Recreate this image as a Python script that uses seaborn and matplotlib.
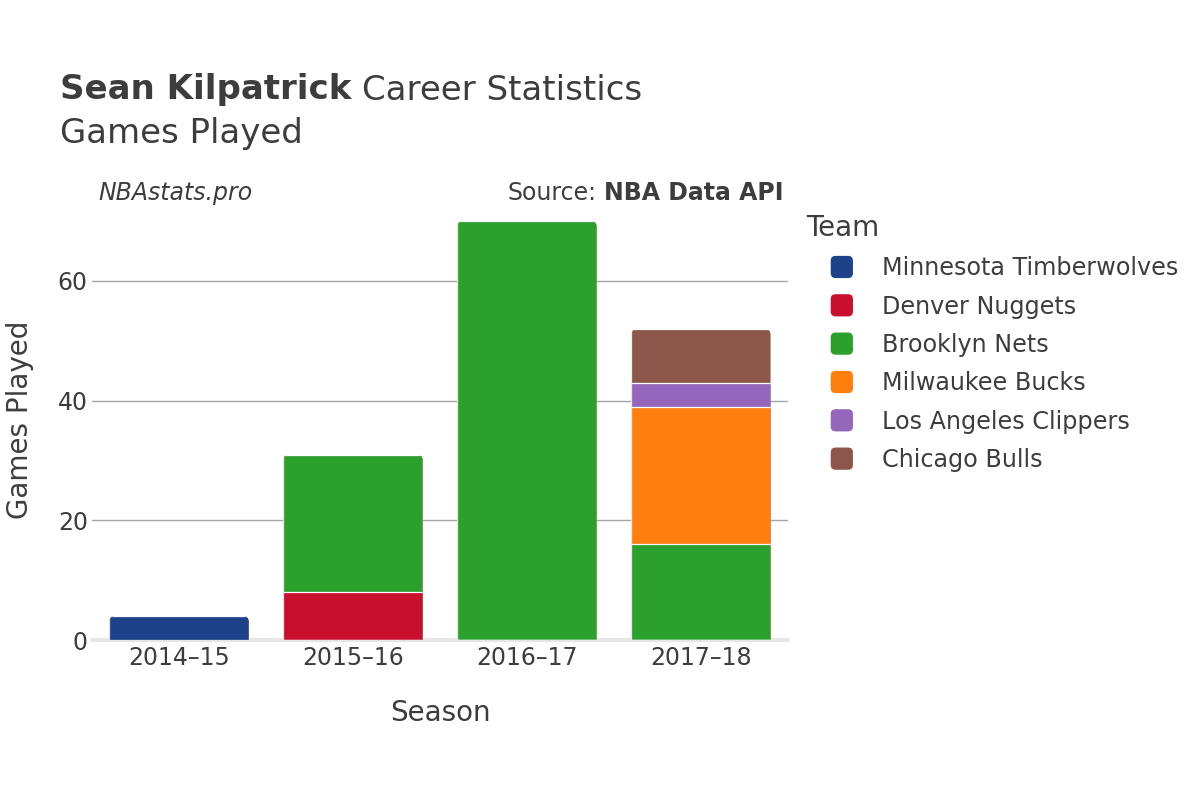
import pandas as pd
import numpy as np
import matplotlib
matplotlib.use("Agg")
import matplotlib.pyplot as plt
import seaborn as sns
from matplotlib.patches import FancyBboxPatch, Patch
from matplotlib.legend_handler import HandlerPatch

# Données
seasons = ["2014–15", "2015–16", "2016–17", "2017–18"]
teams = ["Minnesota Timberwolves", "Denver Nuggets", "Brooklyn Nets",
         "Milwaukee Bucks", "Los Angeles Clippers", "Chicago Bulls"]
team_colors = ["#1d428a", "#c8102e", "#2ca02c", "#ff7f0e", "#9467bd", "#8c564b"]
games = {
    "Minnesota Timberwolves": [4, 0, 0, 0],
    "Denver Nuggets": [0, 8, 0, 0],
    "Brooklyn Nets": [0, 23, 70, 16],
    "Milwaukee Bucks": [0, 0, 0, 23],
    "Los Angeles Clippers": [0, 0, 0, 4],
    "Chicago Bulls": [0, 0, 0, 9],
}

TXT = "#3d3d3d"
sns.set_theme(style="white")
plt.rcParams["font.family"] = ["DejaVu Sans"]

df = pd.DataFrame(games, index=seasons)
cum = df.cumsum(axis=1)

fig = plt.figure(figsize=(12, 8), dpi=100)
ax = fig.add_axes([92 / 1200, 0.2, (788 - 92) / 1200, (640 - 199) / 800])

# barres empilées : on dessine les cumuls du haut vers le bas
for team, color in zip(reversed(teams), reversed(team_colors)):
    layer = pd.DataFrame({"Season": seasons, "Games": cum[team].values})
    sns.barplot(data=layer, x="Season", y="Games", color=color, width=0.8,
                edgecolor="white", linewidth=0.9, saturation=1, ax=ax, zorder=3)

ax.set_xlim(-0.5, 3.5)
ax.set_ylim(0, 73.7)

# coins arrondis en haut de chaque pile
totals = cum[teams[-1]].values
ppx = ax.transData.transform([(0, 0), (1, 1)])
ux = 1.0 / (ppx[1, 0] - ppx[0, 0])
uy = 1.0 / (ppx[1, 1] - ppx[0, 1])
r = 6 * ux
aspect = uy / ux
first = ax.patches[:len(seasons)]
clips = []
for p, tot in zip(first, totals):
    x0, w = p.get_x(), p.get_width()
    box = FancyBboxPatch((x0, -20), w, tot + 20, boxstyle=f"round,pad=0,rounding_size={r}",
                         mutation_aspect=aspect, transform=ax.transData)
    clips.append((x0, x0 + w, box))
for p in ax.patches:
    cx = p.get_x() + p.get_width() / 2
    for a, b, box in clips:
        if a <= cx <= b:
            p.set_clip_path(box)

ax.set_yticks([0, 20, 40, 60])
ax.grid(axis="y", color="#a6a6a6", linewidth=1, zorder=0)
ax.axhline(0, color="#e6e6e6", linewidth=3, zorder=2, clip_on=False)
sns.despine(ax=ax, left=True, bottom=True)
ax.tick_params(axis="both", length=0, labelsize=17, colors=TXT)
ax.tick_params(axis="x", pad=4)
ax.tick_params(axis="y", pad=3)
ax.set_xlabel("Season", fontsize=20, color=TXT, labelpad=21)
ax.set_ylabel("Games Played", fontsize=20, color=TXT, labelpad=17)

# titres
renderer = fig.canvas.get_renderer()
t1 = fig.text(60 / 1200, 1 - 90 / 800, "Sean Kilpatrick", fontsize=24.5, fontweight="bold",
              color=TXT, va="center", ha="left")
x1 = t1.get_window_extent(renderer).x1
fig.text((x1 + 11) / 1200, 1 - 90 / 800, "Career Statistics", fontsize=24.5,
         color=TXT, va="center", ha="left")
fig.text(60 / 1200, 1 - 134 / 800, "Games Played", fontsize=24.5, color=TXT,
         va="center", ha="left")
fig.text(98 / 1200, 1 - 193 / 800, "NBAstats.pro", fontsize=17, style="italic",
         color=TXT, va="center", ha="left")
t2 = fig.text(784 / 1200, 1 - 193 / 800, "NBA Data API", fontsize=17, fontweight="bold",
              color=TXT, va="center", ha="right")
x2 = t2.get_window_extent(renderer).x0
fig.text((x2 - 8) / 1200, 1 - 193 / 800, "Source:", fontsize=17,
         color=TXT, va="center", ha="right")


class RoundHandler(HandlerPatch):
    def create_artists(self, legend, orig_handle, xdescent, ydescent, width, height, fontsize, trans):
        s = 16
        cx = width / 2 - xdescent
        cy = height / 2 - ydescent
        p = FancyBboxPatch((cx - s / 2, cy - s / 2), s, s,
                           boxstyle=f"round,pad=0,rounding_size={s * 0.22}",
                           fc=orig_handle.get_facecolor(), ec="none", transform=trans)
        return [p]


handles = [Patch(color=c, label=t) for t, c in zip(teams, team_colors)]
leg = fig.legend(handles=handles, loc="upper left", bbox_to_anchor=(784.5 / 1200, 1 - 192.5 / 800),
                 frameon=False, fontsize=17.2, title="Team", title_fontsize=20,
                 handlelength=3.0, handletextpad=0.17, labelspacing=0.6,
                 alignment="left", handler_map={Patch: RoundHandler()})
for t in leg.get_texts():
    t.set_color(TXT)
leg.get_title().set_color(TXT)

fig.savefig("out.png", dpi=100)
